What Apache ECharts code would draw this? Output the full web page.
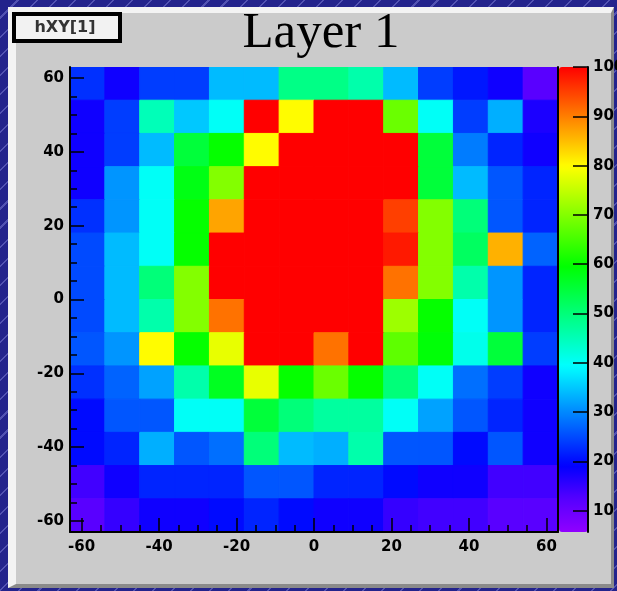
<!DOCTYPE html>
<html><head><meta charset="utf-8">
<script src="https://cdn.jsdelivr.net/npm/echarts@6/dist/echarts.min.js"></script>
<style>
html,body{margin:0;padding:0;width:617px;height:591px;overflow:hidden;}
body{background-color:#23238c;background-image:repeating-linear-gradient(135deg,#23238c 0px,#23238c 12px,#5252b2 12px,#5252b2 13.5px);}
#panel{position:absolute;left:8px;top:7px;width:606px;height:581px;box-sizing:border-box;background:#cbcbcb;border-left:8px solid #f3f3f3;border-top:6px solid #f3f3f3;border-right:3px solid #8a8a8a;border-bottom:4px solid #8a8a8a;}
#chart{position:absolute;left:0;top:0;width:617px;height:591px;}
</style></head>
<body><div id="panel"></div><div id="chart"></div>
<script>
// Bin centres (x left to right, y top to bottom)
const xBins = [-58.5,-49.5,-40.5,-31.5,-22.5,-13.5,-4.5,4.5,13.5,22.5,31.5,40.5,49.5,58.5];
const yBins = [58.5,49.5,40.5,31.5,22.5,13.5,4.5,-4.5,-13.5,-22.5,-31.5,-40.5,-49.5,-58.5];
// Cell contents, one row per y bin (top row first)
const cellValues = [
  [23, 18, 24, 24, 34, 34, 49, 49, 46, 34, 24, 21, 18, 12],
  [18, 24, 45, 35, 40,100, 80,100,100, 68, 40, 24, 33, 17],
  [18, 24, 34, 55, 60, 80,100,100,100,100, 55, 29, 22, 18],
  [18, 31, 40, 58, 70,100,100,100,100,100, 55, 34, 26, 22],
  [23, 31, 40, 60, 87,100,100,100,100, 95, 70, 50, 26, 22],
  [25, 34, 40, 60,100,100,100,100,100, 98, 70, 52, 86, 27],
  [25, 34, 50, 70,100,100,100,100,100, 91, 70, 46, 31, 22],
  [25, 34, 46, 70, 91,100,100,100,100, 72, 60, 40, 31, 22],
  [26, 31, 80, 60, 78,100,100, 91,100, 67, 59, 41, 55, 24],
  [23, 27, 32, 46, 57, 78, 60, 68, 60, 50, 40, 28, 24, 18],
  [20, 26, 26, 40, 40, 55, 50, 47, 47, 40, 32, 26, 22, 18],
  [20, 22, 33, 26, 28, 50, 34, 33, 46, 26, 26, 20, 26, 18],
  [14, 18, 22, 22, 22, 26, 26, 22, 22, 20, 18, 18, 14, 14],
  [12, 15, 18, 18, 20, 22, 20, 18, 18, 15, 14, 14, 12, 12]
];
const majorTicks = [-60,-40,-20,0,20,40,60];
const minorTicks = [-55,-50,-45,-35,-30,-25,-15,-10,-5,5,10,15,25,30,35,45,50,55];
const zTicks = [10,20,30,40,50,60,70,80,90,100];
const zMin = 5.7, zMax = 100;
const paletteColors = ['#9000ff','#5500ff','#0000ff','#0055ff','#00aaff','#00ffff','#00ffaa','#00ff55','#00ff00','#55ff00','#aaff00','#ffff00','#ffaa00','#ff5500','#ff0000'];

const half = (xBins[1] - xBins[0]) / 2;
const axMin = xBins[0] - half, axMax = xBins[xBins.length - 1] + half;
const data = [];
yBins.forEach((y, r) => xBins.forEach((x, c) => data.push([x, y, cellValues[r][c]])));

const labelStyle = {fontFamily:'DejaVu Sans', fontWeight:'bold', fontSize:15, color:'#000'};
const blk = '#000';

const chart = echarts.init(document.getElementById('chart'), null, {renderer:'canvas'});
chart.setOption({
  animation:false,
  backgroundColor:'transparent',
  grid:[
    {left:70, top:67, width:488, height:465, containLabel:false, outerBoundsMode:'none'},
    {left:559, top:67, width:29, height:465, containLabel:false, outerBoundsMode:'none'}
  ],
  xAxis:[
    {gridIndex:0, type:'value', position:'bottom', min:axMin, max:axMax, z:5,
     axisLine:{show:true, onZero:false, lineStyle:{color:blk, width:2}},
     axisTick:{show:true, inside:true, length:14, customValues:majorTicks, lineStyle:{color:blk, width:1.5}},
     axisLabel:Object.assign({show:true, customValues:majorTicks, margin:8}, labelStyle),
     splitLine:{show:false}},
    {gridIndex:0, type:'value', position:'bottom', min:axMin, max:axMax, z:5,
     axisLine:{show:false, onZero:false},
     axisTick:{show:true, inside:true, length:7, customValues:minorTicks, lineStyle:{color:blk, width:1.5}},
     axisLabel:{show:false}, splitLine:{show:false}},
    {gridIndex:1, type:'value', show:false, min:0, max:1}
  ],
  yAxis:[
    {gridIndex:0, type:'value', position:'left', min:axMin, max:axMax, z:5,
     axisLine:{show:true, onZero:false, lineStyle:{color:blk, width:2}},
     axisTick:{show:true, inside:true, length:14, customValues:majorTicks, lineStyle:{color:blk, width:1.5}},
     axisLabel:Object.assign({show:true, customValues:majorTicks, margin:6}, labelStyle),
     splitLine:{show:false}},
    {gridIndex:0, type:'value', position:'left', min:axMin, max:axMax, z:5,
     axisLine:{show:false, onZero:false},
     axisTick:{show:true, inside:true, length:7, customValues:minorTicks, lineStyle:{color:blk, width:1.5}},
     axisLabel:{show:false}, splitLine:{show:false}},
    {gridIndex:0, type:'value', position:'right', min:axMin, max:axMax, z:5,
     axisLine:{show:true, onZero:false, lineStyle:{color:blk, width:2}},
     axisTick:{show:false}, axisLabel:{show:false}, splitLine:{show:false}},
    {gridIndex:1, type:'value', position:'right', min:zMin, max:zMax, z:5,
     axisLine:{show:true, onZero:false, lineStyle:{color:blk, width:2}},
     axisTick:{show:true, inside:true, length:15, customValues:zTicks, lineStyle:{color:blk, width:1.5}},
     axisLabel:Object.assign({show:true, customValues:zTicks, margin:5}, labelStyle),
     splitLine:{show:false}}
  ],
  visualMap:{
    type:'continuous', min:zMin, max:zMax, dimension:2, seriesIndex:0,
    calculable:false, show:true, orient:'vertical', left:559, top:67,
    itemWidth:29, itemHeight:465, padding:0, hoverLink:false,
    inRange:{color:paletteColors}
  },
  series:[{
    type:'custom', xAxisIndex:0, yAxisIndex:0, data:data, encode:{x:0, y:1},
    clip:true, silent:true, z:2,
    renderItem:function(params, api){
      const x = api.value(0), y = api.value(1);
      const p0 = api.coord([x - half, y + half]);
      const p1 = api.coord([x + half, y - half]);
      const col = api.visual('color');
      return {type:'rect', shape:{x:p0[0], y:p0[1], width:p1[0]-p0[0], height:p1[1]-p0[1]},
              style:{fill:col, stroke:col, lineWidth:1}};
    }
  }],
  graphic:[
    {type:'rect', z:10, shape:{x:14, y:14, width:106, height:27}, style:{fill:'#f2f2f2', stroke:'#000', lineWidth:4}},
    {type:'text', z:11, x:65, y:28, style:{text:'hXY[1]', font:'bold 16px "DejaVu Sans"', fill:'#333', align:'center', verticalAlign:'middle', textAlign:'center', textVerticalAlign:'middle'}},
    {type:'text', z:11, x:321, y:34, style:{text:'Layer 1', font:'51px "Liberation Serif"', fill:'#000', align:'center', verticalAlign:'middle', textAlign:'center', textVerticalAlign:'middle'}}
  ]
});
</script></body></html>
